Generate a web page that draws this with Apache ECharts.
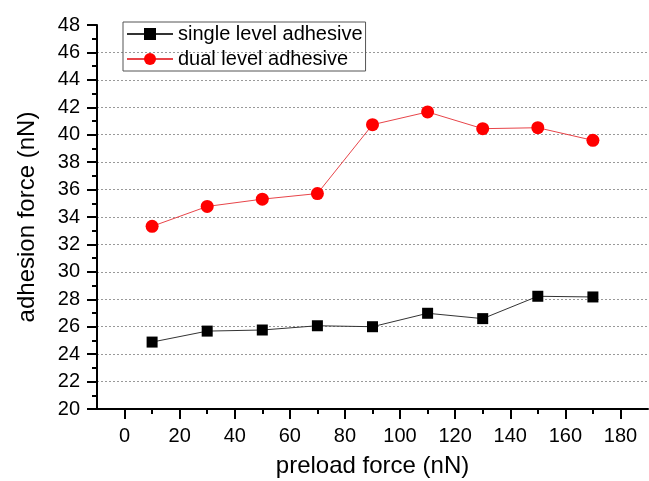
<!DOCTYPE html>
<html>
<head>
<meta charset="utf-8">
<script src="https://cdn.jsdelivr.net/npm/echarts@6/dist/echarts.min.js"></script>
<style>
html,body{margin:0;padding:0;background:#fff;}
#chart{width:649px;height:481px;}
</style>
</head>
<body>
<div id="chart"></div>
<script>
const preload = [10, 30, 50, 70, 90, 110, 130, 150, 170];
const singleLevel = [24.88, 25.68, 25.76, 26.07, 26.0, 26.98, 26.59, 28.22, 28.17];
const dualLevel = [33.32, 34.77, 35.30, 35.71, 40.73, 41.66, 40.44, 40.51, 39.59];
const xMajorTicks = [0, 20, 40, 60, 80, 100, 120, 140, 160, 180];
const xMinorTicks = [10, 30, 50, 70, 90, 110, 130, 150, 170];
const seriesNames = ['single level adhesive', 'dual level adhesive'];

const FONT = "'Liberation Sans', Arial, sans-serif";
const chart = echarts.init(document.getElementById('chart'), null, {renderer: 'canvas'});

const pairs = (xs, ys) => xs.map((x, i) => [x, ys[i]]);

chart.setOption({
  animation: false,
  backgroundColor: '#fff',
  textStyle: {fontFamily: FONT},
  grid: {left: 97, right: 1, top: 25, bottom: 72, containLabel: false, outerBoundsMode: 'none'},
  legend: {
    orient: 'vertical',
    left: 123,
    top: 22,
    padding: [2, 3, 2, 3],
    itemGap: 5,
    itemWidth: 46,
    itemHeight: 15,
    borderColor: '#555',
    borderWidth: 1,
    textStyle: {fontSize: 20, color: '#000', fontFamily: FONT},
    data: seriesNames
  },
  xAxis: [
    {
      type: 'value', min: -10, max: 190,
      name: 'preload force (nN)',
      nameLocation: 'middle',
      nameGap: 45,
      nameTextStyle: {fontSize: 24, color: '#000', fontFamily: FONT},
      axisLine: {show: true, onZero: false, lineStyle: {color: '#000', width: 2}},
      axisTick: {show: true, customValues: xMajorTicks, length: 10, lineStyle: {color: '#000', width: 2}},
      axisLabel: {customValues: xMajorTicks, fontSize: 20, color: '#000', margin: 17, fontFamily: FONT},
      splitLine: {show: false}
    },
    {
      type: 'value', min: -10, max: 190, position: 'bottom',
      axisLine: {show: false, onZero: false},
      axisTick: {show: true, customValues: xMinorTicks, length: 5, lineStyle: {color: '#000', width: 2}},
      axisLabel: {show: false},
      splitLine: {show: false}
    }
  ],
  yAxis: {
    type: 'value', min: 20, max: 48, interval: 2,
    name: 'adhesion force (nN)',
    nameLocation: 'middle',
    nameGap: 58,
    nameTextStyle: {fontSize: 24, color: '#000', fontFamily: FONT},
    axisLine: {show: true, onZero: false, lineStyle: {color: '#000', width: 2}},
    axisTick: {show: true, length: 10, lineStyle: {color: '#000', width: 2}},
    minorTick: {show: true, splitNumber: 2, length: 5, lineStyle: {color: '#000', width: 2}},
    axisLabel: {fontSize: 20, color: '#000', margin: 17, fontFamily: FONT},
    splitLine: {show: true, showMinLine: false, showMaxLine: false, lineStyle: {color: '#999', width: 1, type: [2, 2]}}
  },
  series: [
    {
      name: seriesNames[0], type: 'line', xAxisIndex: 0,
      data: pairs(preload, singleLevel),
      symbol: 'rect', symbolSize: 11,
      itemStyle: {color: '#000'},
      lineStyle: {color: '#333', width: 1},
      z: 3
    },
    {
      name: seriesNames[1], type: 'line', xAxisIndex: 0,
      data: pairs(preload, dualLevel),
      symbol: 'circle', symbolSize: 13,
      itemStyle: {color: '#ff0000'},
      lineStyle: {color: '#e8454a', width: 1},
      z: 3
    }
  ]
});
</script>
</body>
</html>
